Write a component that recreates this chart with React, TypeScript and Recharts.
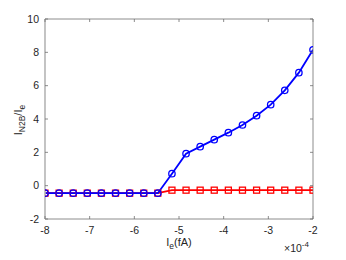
import React from 'react';
import { LineChart, Line, XAxis, YAxis } from 'recharts';

const xValues = [-8, -7.684, -7.368, -7.053, -6.737, -6.421, -6.105, -5.789, -5.474, -5.158, -4.842, -4.526, -4.211, -3.895, -3.579, -3.263, -2.947, -2.632, -2.316, -2];
const blueValues = [-0.45, -0.45, -0.45, -0.45, -0.45, -0.45, -0.45, -0.45, -0.45, 0.72, 1.92, 2.34, 2.76, 3.18, 3.64, 4.2, 4.86, 5.72, 6.78, 8.15];
const redValues = [-0.45, -0.45, -0.45, -0.45, -0.45, -0.45, -0.45, -0.45, -0.45, -0.27, -0.27, -0.27, -0.27, -0.27, -0.27, -0.27, -0.27, -0.27, -0.27, -0.27];
const xTicks = [-8, -7, -6, -5, -4, -3, -2];
const yTicks = [-2, 0, 2, 4, 6, 8, 10];

const data = xValues.map((x, i) => ({ x, blue: blueValues[i], red: redValues[i] }));

const FONT = "'Liberation Sans', Arial, Helvetica, sans-serif";
const TXT = '#262626';
const AX = '#6e6e6e';

const BottomTick = (p: any) => (
  <g>
    <line x1={p.x} y1={p.y} x2={p.x} y2={p.y - 3} stroke={AX} strokeWidth={0.8} />
    <text x={p.x} y={p.y + 15} textAnchor="middle" fontSize={10.5} fontFamily={FONT} fill={TXT}>{p.payload.value}</text>
  </g>
);
const TopTick = (p: any) => (
  <line x1={p.x} y1={p.y} x2={p.x} y2={p.y + 3} stroke={AX} strokeWidth={0.8} />
);
const LeftTick = (p: any) => (
  <g>
    <line x1={p.x} y1={p.y} x2={p.x + 3} y2={p.y} stroke={AX} strokeWidth={0.8} />
    <text x={p.x - 6} y={p.y} dy="0.36em" textAnchor="end" fontSize={10.5} fontFamily={FONT} fill={TXT}>{p.payload.value}</text>
  </g>
);
const RightTick = (p: any) => (
  <line x1={p.x} y1={p.y} x2={p.x - 3} y2={p.y} stroke={AX} strokeWidth={0.8} />
);

const SquareDot = (p: any) => {
  if (p.cx == null || p.cy == null) return null;
  return <rect key={p.index} x={p.cx - 3} y={p.cy - 3} width={6} height={6} fill="none" stroke="#ff0000" strokeWidth={1.3} />;
};
const CircleDot = (p: any) => {
  if (p.cx == null || p.cy == null) return null;
  return <circle key={p.index} cx={p.cx} cy={p.cy} r={3.2} fill="none" stroke="#0000ff" strokeWidth={1.3} />;
};

export default function App() {
  return (
    <div style={{ position: 'absolute', left: 0, top: 0, background: '#fff' }}>
      <LineChart width={346} height={260} data={data} margin={{ top: 0, right: 0, bottom: 0, left: 0 }}>
        <XAxis xAxisId="b" dataKey="x" type="number" domain={[-8, -2]} ticks={xTicks} orientation="bottom" height={41}
          tickSize={0} tickMargin={0} tickLine={false} axisLine={{ stroke: AX, strokeWidth: 0.8 }} tick={<BottomTick />} interval={0} allowDataOverflow />
        <XAxis xAxisId="t" dataKey="x" type="number" domain={[-8, -2]} ticks={xTicks} orientation="top" height={19}
          tickSize={0} tickMargin={0} tickLine={false} axisLine={{ stroke: AX, strokeWidth: 0.8 }} tick={<TopTick />} interval={0} allowDataOverflow />
        <YAxis yAxisId="l" type="number" domain={[-2, 10]} ticks={yTicks} orientation="left" width={45}
          tickSize={0} tickMargin={0} tickLine={false} axisLine={{ stroke: '#b5b5b5', strokeWidth: 1.6 }} tick={<LeftTick />} interval={0} allowDataOverflow />
        <YAxis yAxisId="r" type="number" domain={[-2, 10]} ticks={yTicks} orientation="right" width={33}
          tickSize={0} tickMargin={0} tickLine={false} axisLine={{ stroke: AX, strokeWidth: 0.8 }} tick={<RightTick />} interval={0} allowDataOverflow />
        <Line xAxisId="b" yAxisId="l" dataKey="red" stroke="#ff0000" strokeWidth={1.8} dot={<SquareDot />} isAnimationActive={false} />
        <Line xAxisId="t" yAxisId="r" dataKey="blue" stroke="#0000ff" strokeWidth={1.8} dot={<CircleDot />} isAnimationActive={false} />
        <text x={179} y={246} textAnchor="middle" fontSize={11} fontFamily={FONT} fill={TXT}>
          I<tspan fontSize={8.5} dy={3}>e</tspan><tspan dy={-3}>(fA)</tspan>
        </text>
        <text x={284} y={252} fontSize={10.5} fontFamily={FONT} fill={TXT}>
          ×10<tspan fontSize={8} dy={-5}>-4</tspan>
        </text>
        <text transform="translate(22,120) rotate(-90)" textAnchor="middle" fontSize={11} fontFamily={FONT} fill={TXT}>
          I<tspan fontSize={8.5} dy={3}>N2B</tspan><tspan dy={-3}>/I</tspan><tspan fontSize={8.5} dy={3}>e</tspan>
        </text>
      </LineChart>
    </div>
  );
}
